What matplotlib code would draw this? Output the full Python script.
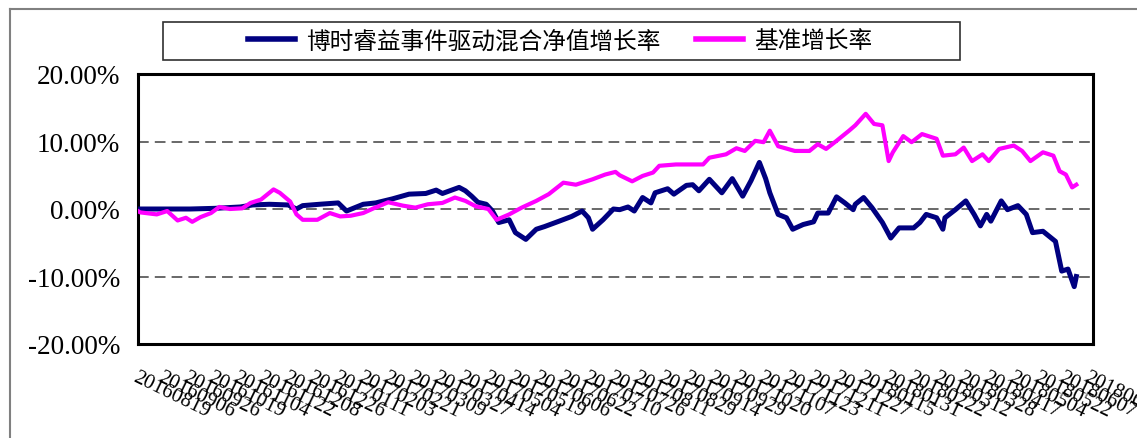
# -*- coding: utf-8 -*-
import matplotlib
matplotlib.use('Agg')
import matplotlib.pyplot as plt
from matplotlib.patches import Rectangle
from matplotlib.lines import Line2D
from matplotlib.ticker import FuncFormatter

# trading-day number since start, growth rate in %
fund_day = [0, 11, 25, 37, 49, 55, 63, 72, 76, 79, 87, 96, 100, 108, 114, 122, 130, 138, 143, 146,
            154, 157, 160, 163, 167, 170, 173, 178, 181, 186, 191, 195, 202, 208, 213, 216, 218, 223,
            228, 231, 235, 238, 242, 246, 248, 254, 257, 263, 266, 269, 274, 280, 285, 290, 294, 298,
            301, 303, 307, 311, 314, 319, 324, 326, 331, 335, 339, 343, 344, 348, 352, 357, 361, 365,
            372, 375, 378, 383, 386, 387, 392, 397, 401, 404, 407, 409, 414, 417, 422, 426, 429, 434,
            438, 440, 443, 446, 449, 450]
fund_val = [0.0, 0.0, 0.0, 0.1, 0.3, 0.6, 0.7, 0.6, 0.0, 0.5, 0.7, 0.9, -0.3, 0.7, 0.9, 1.5, 2.2, 2.3, 2.8, 2.3,
            3.2, 2.7, 1.9, 1.0, 0.7, -0.3, -2.0, -1.6, -3.5, -4.5, -3.0, -2.6, -1.8, -1.1, -0.3, -1.3, -3.0, -1.6,
            0.0, -0.1, 0.3, -0.3, 1.7, 0.9, 2.4, 3.0, 2.2, 3.5, 3.6, 2.7, 4.4, 2.4, 4.5, 1.9, 4.2, 6.9,
            4.5, 2.4, -0.8, -1.3, -3.0, -2.3, -1.9, -0.6, -0.6, 1.8, 0.9, -0.1, 0.7, 1.7, 0.2, -2.0, -4.3, -2.8,
            -2.8, -2.0, -0.8, -1.3, -3.0, -1.3, -0.1, 1.2, -0.8, -2.5, -0.8, -1.8, 1.2, -0.1, 0.5, -0.8, -3.5, -3.3,
            -4.3, -4.8, -9.2, -8.9, -11.5, -10.0]

bench_day = [0, 1, 9, 14, 19, 23, 26, 30, 35, 39, 44, 50, 54, 59, 65, 68, 73, 76, 79, 86, 92, 97, 102,
             108, 113, 120, 127, 133, 139, 146, 152, 157, 162, 168, 172, 178, 184, 191, 197, 204, 210,
             218, 224, 229, 231, 237, 242, 247, 250, 258, 266, 271, 274, 282, 287, 291, 296, 300, 303,
             307, 315, 322, 326, 330, 335, 341, 344, 349, 353, 357, 360, 362, 367, 371, 376, 383, 386,
             392, 396, 400, 405, 408, 413, 420, 424, 428, 434, 439, 442, 445, 448, 450]
bench_val = [-0.3, -0.5, -0.8, -0.3, -1.7, -1.3, -1.9, -1.2, -0.6, 0.3, 0.0, 0.1, 0.9, 1.4, 2.9, 2.4, 1.1, -0.8, -1.6, -1.6, -0.6, -1.1, -1.0,
             -0.6, 0.1, 1.0, 0.5, 0.2, 0.7, 0.9, 1.7, 1.2, 0.4, 0.0, -1.6, -0.8, 0.2, 1.2, 2.2, 3.9, 3.6,
             4.4, 5.1, 5.5, 5.0, 4.1, 4.9, 5.4, 6.4, 6.6, 6.6, 6.6, 7.6, 8.1, 9.0, 8.6, 10.1, 9.9, 11.6,
             9.3, 8.6, 8.6, 9.6, 8.9, 10.1, 11.6, 12.4, 14.1, 12.6, 12.4, 7.1, 8.4, 10.8, 9.9, 11.1, 10.4, 7.9,
             8.1, 9.1, 7.1, 8.1, 7.1, 8.9, 9.4, 8.6, 7.1, 8.4, 7.9, 5.6, 5.1, 3.2, 3.6]

tick_day = [i * 12 for i in range(39)]
tick_labels = ['20160819', '20160906', '20160926', '20161019', '20161104', '20161122', '20161208',
               '20161226', '20170111', '20170203', '20170221', '20170309', '20170327', '20170414',
               '20170504', '20170519', '20170606', '20170622', '20170710', '20170726', '20170811',
               '20170829', '20170914', '20170929', '20171020', '20171107', '20171123', '20171211',
               '20171227', '20180115', '20180131', '20180222', '20180312', '20180328', '20180417',
               '20180504', '20180522', '20180607', '20180629']

fund_name = '博时睿益事件驱动混合净值增长率'
bench_name = '基准增长率'

fig = plt.figure(figsize=(11.37, 4.39), dpi=100)
ax = fig.add_axes([138 / 1137, 1 - 345 / 439, (1093 - 138) / 1137, (345 - 75) / 439])

# chart area border (cut at right edge)
fig.add_artist(Line2D([10 / 1137, 1.0], [1 - 10 / 439, 1 - 10 / 439], color='#808080', lw=1.5))
fig.add_artist(Line2D([10 / 1137, 10 / 1137], [1 - 10 / 439, 0.0], color='#808080', lw=1.5))

for v in [10, 0, -10]:
    ax.axhline(v, color='#404040', lw=1.1, linestyle=(0, (7, 4)), zorder=1)

ax.plot(fund_day, fund_val, color='#000080', lw=3.6, zorder=3)
ax.plot(bench_day, bench_val, color='#FF00FF', lw=3.0, zorder=4)

ax.set_xlim(0, 458)
ax.set_ylim(-20, 20)
ax.set_yticks([20, 10, 0, -10, -20])
ax.yaxis.set_major_formatter(FuncFormatter(lambda v, p: '%.2f%%' % v))
for lab in ax.get_yticklabels():
    lab.set_fontfamily('Liberation Serif')
    lab.set_fontsize(19.5)
ax.tick_params(axis='y', length=0, pad=13)

ax.set_xticks(tick_day)
ax.set_xticklabels(tick_labels, rotation=-26, ha='left', va='top', rotation_mode='anchor',
                   fontfamily='Liberation Serif', fontsize=15)
ax.tick_params(axis='x', length=0, pad=17)

for s in ax.spines.values():
    s.set_linewidth(2.2)
    s.set_color('black')

# legend box wider than its content
fig.add_artist(Rectangle((163 / 1137, 1 - 61 / 439), 797 / 1137, 38 / 439, transform=fig.transFigure,
                         fill=False, edgecolor='#303030', lw=1.2))
handles = [Line2D([], [], color='#000080', lw=4), Line2D([], [], color='#FF00FF', lw=4)]
fig.legend(handles, [fund_name, bench_name], loc='center', bbox_to_anchor=(560 / 1137, 1 - 42 / 439),
           ncol=2, frameon=False, handlelength=2.0, handletextpad=0.45, columnspacing=1.5,
           prop={'family': 'Noto Sans CJK SC', 'size': 17})

fig.savefig('out.png', dpi=100)
